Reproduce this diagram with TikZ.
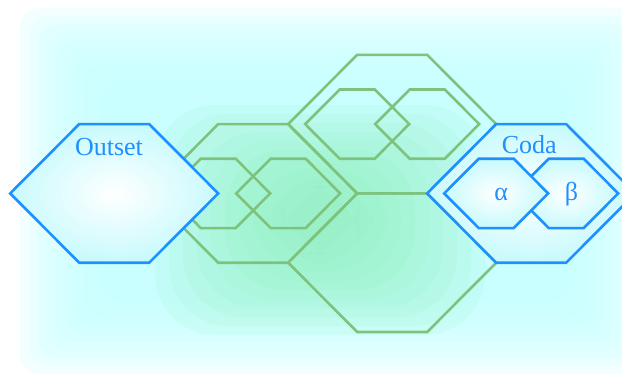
\documentclass[tikz,border=0pt]{standalone}
\usepackage{fontspec}
\setmainfont{Liberation Serif}
\usetikzlibrary{calc}
\definecolor{hexblue}{RGB}{30,144,255}
\definecolor{hexgreen}{RGB}{125,195,125}
\definecolor{bgcyan}{RGB}{196,255,255}
\definecolor{bggreen}{RGB}{140,240,185}
\definecolor{fillcyan}{RGB}{200,250,252}
\def\hexpath{(-104,0) -- (-35,-69.3) -- (35,-69.3) -- (104,0) -- (35,69.3) -- (-35,69.3) -- cycle}
\tikzset{
  greenhex/.style={draw=hexgreen, line width=2.6pt},
  bluehex/.style={draw=hexblue, line width=2.6pt, inner color=white, outer color=fillcyan},
  hexlabel/.style={text=hexblue, font=\fontsize{26}{30}\selectfont, inner sep=0pt, anchor=base},
  bglayer/.style={fill=bgcyan, fill opacity=0.2},
  glowlayer/.style={fill=bggreen, fill opacity=0.12},
}
\begin{document}
\begin{tikzpicture}[x=1pt,y=-1pt]
\clip (0,0) rectangle (622,376);
\useasboundingbox (0,0) rectangle (622,376);
% background: soft-edged cyan field
\foreach \i in {0,...,9} {
  \fill[bglayer, rounded corners=20pt] (20+9*\i,8+8*\i) rectangle (650-9*\i,374-8*\i);
}
% green glow
\coordinate (glow) at (320,215);
\foreach \i in {0,...,9} {
  \fill[glowlayer, rounded corners=60pt] ($(glow)+({-165+14*\i},{-110+9*\i})$) rectangle ($(glow)+({165-14*\i},{120-9*\i})$);
}
% centres
\coordinate (outset) at (114.2,193.4);
\coordinate (g1) at (253.2,193.4);
\coordinate (g2) at (392.2,124.1);
\coordinate (g3) at (392.2,262.7);
\coordinate (coda) at (531.2,193.4);
% green hexagons
\draw[greenhex, shift={(g1)}] \hexpath;
\draw[greenhex, shift={(g1)}, shift={(-35,0)}, scale=0.5] \hexpath;
\draw[greenhex, shift={(g1)}, shift={(35,0)}, scale=0.5] \hexpath;
\draw[greenhex, shift={(g2)}] \hexpath;
\draw[greenhex, shift={(g2)}, shift={(-35,0)}, scale=0.5] \hexpath;
\draw[greenhex, shift={(g2)}, shift={(35,0)}, scale=0.5] \hexpath;
\draw[greenhex, shift={(g3)}] \hexpath;
% blue hexagons
\shadedraw[bluehex, shift={(outset)}] \hexpath;
\shadedraw[bluehex, shift={(coda)}] \hexpath;
\shadedraw[bluehex, shift={(coda)}, shift={(35,0)}, scale=0.5] \hexpath;
\shadedraw[bluehex, shift={(coda)}, shift={(-35,0)}, scale=0.5] \hexpath;
% labels
\node[hexlabel] (outsetlabel) at (109,155.7) {Outset};
\node[hexlabel] (codalabel) at (529.2,153.3) {Coda};
\node[hexlabel] (alphalabel) at (501.2,200.5) {α};
\node[hexlabel] (betalabel) at (571.5,200) {β};
\end{tikzpicture}
\end{document}
